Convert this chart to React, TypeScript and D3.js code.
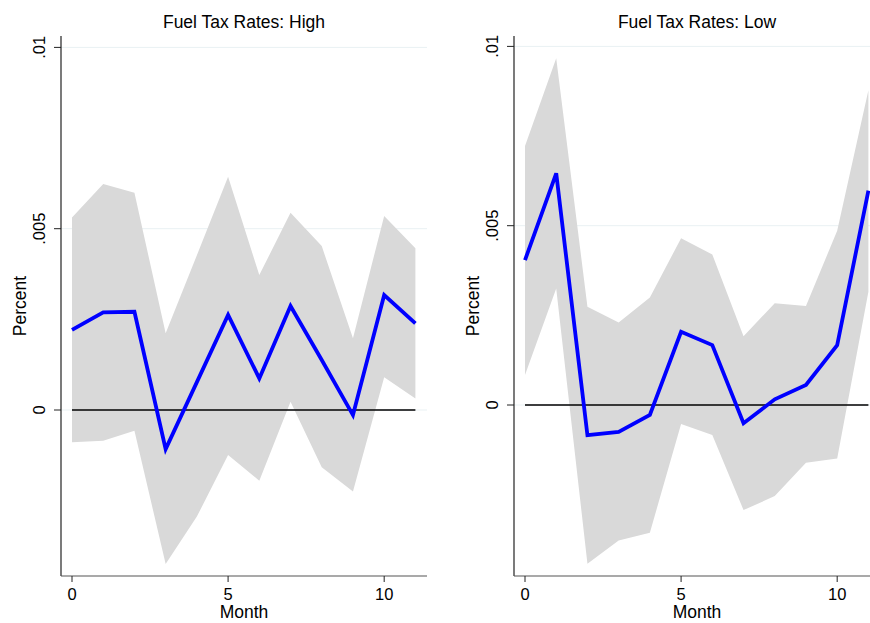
import React, { useEffect, useRef } from 'react';
import * as d3 from 'd3';

const months = [0, 1, 2, 3, 4, 5, 6, 7, 8, 9, 10, 11];

const highMean = [0.00221, 0.00269, 0.00271, -0.00108, 0.00077, 0.00262, 0.00087, 0.00287, 0.00138, -0.00014, 0.00317, 0.00239];
const highUpper = [0.00531, 0.00623, 0.00599, 0.00212, 0.00427, 0.00643, 0.00372, 0.00544, 0.00452, 0.00198, 0.00535, 0.00446];
const highLower = [-0.00089, -0.00085, -0.00057, -0.00425, -0.00294, -0.00124, -0.00195, 0.00023, -0.00158, -0.00225, 0.0009, 0.00032];

const lowMean = [0.00404, 0.00646, -0.00084, -0.00075, -0.00028, 0.00204, 0.00167, -0.00051, 0.00016, 0.00056, 0.00167, 0.00598];
const lowUpper = [0.00722, 0.00967, 0.00274, 0.0023, 0.003, 0.00465, 0.0042, 0.00192, 0.00284, 0.00276, 0.00486, 0.00878];
const lowLower = [0.00084, 0.00325, -0.00443, -0.00378, -0.00356, -0.00053, -0.00084, -0.00293, -0.00254, -0.00161, -0.00149, 0.00316];

const yTicks = [0, 0.005, 0.01];
const yTickLabels = ['0', '.005', '.01'];
const xTicks = [0, 5, 10];

const FONT = 'Arial, "Liberation Sans", Helvetica, sans-serif';

const App = () => {
  const svgRef = useRef<SVGSVGElement>(null);

  useEffect(() => {
    const svg = d3.select(svgRef.current);
    svg.selectAll('*').remove();

    const drawPanel = (left: number, title: string, mean: number[], upper: number[], lower: number[], y0: number, yPerUnit: number) => {
      const axisLeft = left;
      const axisRight = left + 366;
      const top = 36;
      const bottom = 576;

      const x = d3.scaleLinear().domain([0, 11]).range([left + 11, left + 11 + 343.4]);
      // pixel positions: zero line at y0, scale in px per unit
      const y = d3.scaleLinear()
        .domain([(y0 - bottom) / yPerUnit, (y0 - top) / yPerUnit])
        .range([bottom, top]);

      const g = svg.append('g');

      // gridlines
      g.selectAll('.grid')
        .data(yTicks)
        .enter().append('line')
        .attr('x1', axisLeft)
        .attr('x2', axisRight)
        .attr('y1', d => y(d))
        .attr('y2', d => y(d))
        .attr('stroke', '#e9f1f3')
        .attr('stroke-width', 1);

      // confidence band
      const area = d3.area<number>()
        .x(d => x(d))
        .y0(d => y(lower[d]))
        .y1(d => y(upper[d]));
      g.append('path')
        .attr('d', area(months) as string)
        .attr('fill', '#d9d9d9');

      // zero line
      g.append('line')
        .attr('x1', x(0))
        .attr('x2', x(11))
        .attr('y1', y(0))
        .attr('y2', y(0))
        .attr('stroke', '#000')
        .attr('stroke-width', 1.3);

      // estimate line
      const line = d3.line<number>()
        .x(d => x(d))
        .y(d => y(mean[d]));
      g.append('path')
        .attr('d', line(months) as string)
        .attr('fill', 'none')
        .attr('stroke', '#0000ff')
        .attr('stroke-width', 3.8)
        .attr('stroke-linejoin', 'miter');

      // y axis
      g.append('line')
        .attr('x1', axisLeft).attr('x2', axisLeft)
        .attr('y1', top).attr('y2', bottom)
        .attr('stroke', '#222').attr('stroke-width', 1.2);
      g.selectAll('.ytick')
        .data(yTicks)
        .enter().append('line')
        .attr('x1', axisLeft - 7).attr('x2', axisLeft)
        .attr('y1', d => y(d)).attr('y2', d => y(d))
        .attr('stroke', '#222').attr('stroke-width', 1);
      g.selectAll('.ylab')
        .data(yTicks)
        .enter().append('text')
        .attr('transform', d => `translate(${axisLeft - 16},${y(d)}) rotate(-90)`)
        .attr('text-anchor', 'middle')
        .attr('font-family', FONT)
        .attr('font-size', 16.5)
        .attr('fill', '#000')
        .text((d, i) => yTickLabels[i]);
      g.append('text')
        .attr('transform', `translate(${axisLeft - 35},306) rotate(-90)`)
        .attr('text-anchor', 'middle')
        .attr('font-family', FONT)
        .attr('font-size', 17.5)
        .text('Percent');

      // x axis
      g.append('line')
        .attr('x1', axisLeft).attr('x2', axisRight)
        .attr('y1', bottom).attr('y2', bottom)
        .attr('stroke', '#555').attr('stroke-width', 1.2);
      g.selectAll('.xtick')
        .data(xTicks)
        .enter().append('line')
        .attr('x1', d => x(d)).attr('x2', d => x(d))
        .attr('y1', bottom).attr('y2', bottom + 6)
        .attr('stroke', '#222').attr('stroke-width', 1);
      g.selectAll('.xlab')
        .data(xTicks)
        .enter().append('text')
        .attr('x', d => x(d))
        .attr('y', 600)
        .attr('text-anchor', 'middle')
        .attr('font-family', FONT)
        .attr('font-size', 16.5)
        .text(d => String(d));
      g.append('text')
        .attr('x', (axisLeft + axisRight) / 2)
        .attr('y', 618)
        .attr('text-anchor', 'middle')
        .attr('font-family', FONT)
        .attr('font-size', 17.5)
        .text('Month');

      // title
      g.append('text')
        .attr('x', (axisLeft + axisRight) / 2)
        .attr('y', 28)
        .attr('text-anchor', 'middle')
        .attr('font-family', FONT)
        .attr('font-size', 17.5)
        .text(title);
    };

    drawPanel(61, 'Fuel Tax Rates: High', highMean, highUpper, highLower, 410, 36260);
    drawPanel(514, 'Fuel Tax Rates: Low', lowMean, lowUpper, lowLower, 405, 35860);
  }, []);

  return (
    <svg
      ref={svgRef}
      width={870}
      height={623}
      style={{ position: 'absolute', left: 0, top: 0, background: '#fff' }}
    />
  );
};

export default App;
